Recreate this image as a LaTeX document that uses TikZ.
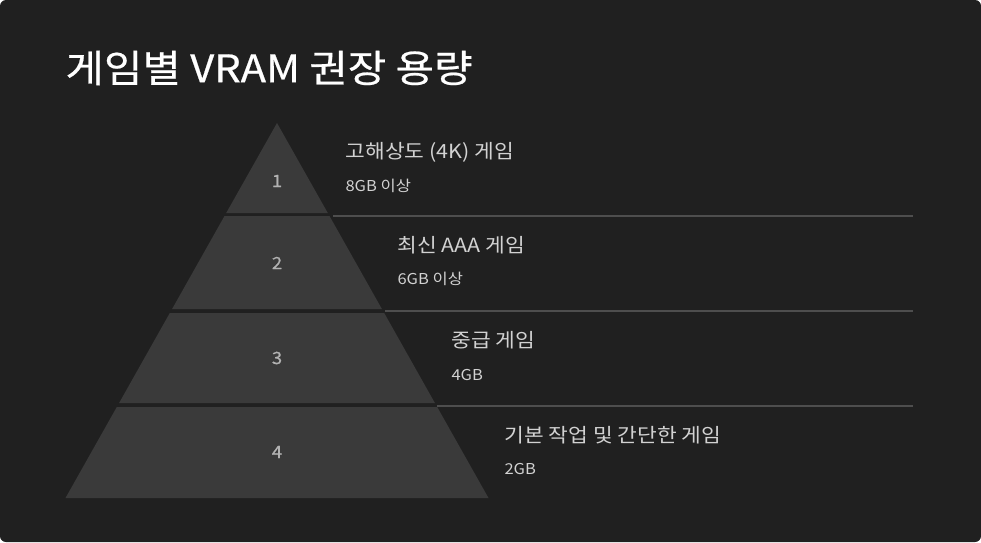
\documentclass[tikz,border=0pt]{standalone}
\usepackage{fontspec}
\setmainfont{Noto Sans CJK KR}
\newfontfamily\widefont[FakeStretch=1.1]{Noto Sans CJK KR}
\newfontfamily\widebold[FakeStretch=1.1, FakeBold=0.6]{Noto Sans CJK KR}
\usetikzlibrary{positioning}
\definecolor{bgcol}{HTML}{202020}
\definecolor{bandcol}{HTML}{3A3A3A}
\definecolor{rulecol}{HTML}{4E4E4E}
\definecolor{txtcol}{HTML}{D2D2D2}
\tikzset{
  band/.style={fill=bandcol, draw=none},
  num/.style={text=txtcol!85!black, font=\widebold\fontsize{17}{17}\selectfont},
  head/.style={text=txtcol, anchor=west, font=\widefont\fontsize{19.5}{19.5}\selectfont},
  sub/.style={text=txtcol, anchor=west, font=\widefont\fontsize{15}{15}\selectfont},
  sep/.style={draw=rulecol, line width=1.2pt}
}
\begin{document}
\begin{tikzpicture}[x=1pt, y=-1pt]
  \fill[bgcol, rounded corners=6pt] (0,0) rectangle (981,542);
  \useasboundingbox (0,0) rectangle (981,542);
  \node[anchor=west, text=white, font=\widebold\fontsize{38}{38}\selectfont] (title) at (62,68) {게임별 VRAM 권장 용량};

  % pyramid bands
  \fill[band] (277,123) -- (327.8,213) -- (226.2,213) -- cycle;
  \fill[band] (224.5,216) -- (329.5,216) -- (381.9,309) -- (172.1,309) -- cycle;
  \fill[band] (169.8,313) -- (384.2,313) -- (434.9,403) -- (119.1,403) -- cycle;
  \fill[band] (116.8,407) -- (437.2,407) -- (488.5,498) -- (65.5,498) -- cycle;

  \node[num] (n1) at (277,181) {1};
  \node[num] (n2) at (277,263) {2};
  \node[num] (n3) at (277,358) {3};
  \node[num] (n4) at (277,452) {4};

  % separators
  \coordinate (s1a) at (333,216); \coordinate (s1b) at (913,216);
  \coordinate (s2a) at (385,311); \coordinate (s2b) at (913,311);
  \coordinate (s3a) at (437,406); \coordinate (s3b) at (913,406);
  \draw[sep] (s1a) -- (s1b);
  \draw[sep] (s2a) -- (s2b);
  \draw[sep] (s3a) -- (s3b);

  % labels
  \node[head] (h1) at (342,152) {고해상도 (4K) 게임};
  \node[sub]  (d1) at (342,186) {8GB 이상};
  \node[head] (h2) at (394,245) {최신 AAA 게임};
  \node[sub]  (d2) at (394,279) {6GB 이상};
  \node[head] (h3) at (448,340) {중급 게임};
  \node[sub]  (d3) at (448,375) {4GB};
  \node[head] (h4) at (501,435) {기본 작업 및 간단한 게임};
  \node[sub]  (d4) at (501,469) {2GB};
\end{tikzpicture}
\end{document}
